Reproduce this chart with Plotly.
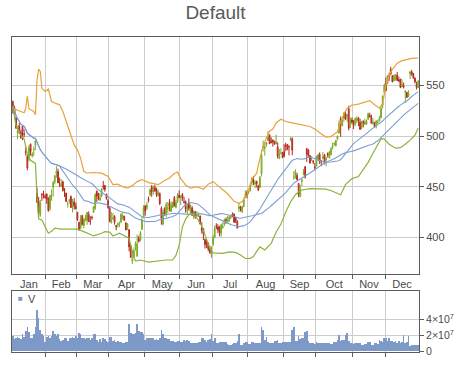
import plotly.graph_objects as go

# ---------------- data ----------------
month_names = ["Jan", "Feb", "Mar", "Apr", "May", "Jun", "Jul", "Aug", "Sep", "Oct", "Nov", "Dec"]
month_sessions = [21, 19, 20, 22, 22, 20, 22, 22, 20, 23, 20, 21]

open_ = [
    553.8, 547.9, 537.0, 522.0, 529.2, 522.5, 528.6, 521.0, 502.7, 498.5, 494.6, 510.3, 498.5, 504.6, 508.8, 460.0, 451.7, 437.8, 458.5, 457.0, 456.9,
    459.1, 453.9, 444.1, 456.5, 463.3, 468.9, 476.5, 479.5, 467.2, 464.5, 468.9, 461.1, 457.7, 446.0, 449.3, 453.9, 443.8, 448.4, 444.1,
    438.0, 427.8, 421.5, 434.5, 424.5, 429.8, 429.8, 435.6, 428.5, 432.8, 437.9, 441.5, 459.5, 457.4, 450.2, 454.6, 464.7, 465.4, 456.5, 449.8,
    441.9, 427.6, 431.4, 433.8, 424.5, 424.8, 426.4, 428.1, 433.7, 434.2, 427.0, 421.7, 420.3, 404.0, 388.0, 392.6, 403.0, 393.5, 411.2, 409.8, 420.5, 435.1,
    444.5, 441.8, 451.3, 455.7, 464.0, 459.0, 459.8, 457.9, 451.7, 453.9, 439.2, 423.2, 439.1, 431.9, 438.7, 444.1, 435.9, 440.0, 449.9, 440.0, 445.7, 452.5,
    450.7, 453.2, 445.7, 445.6, 436.5, 444.5, 435.7, 439.5, 432.5, 435.4, 431.4, 431.6, 431.2, 419.3, 418.5, 407.4, 405.0, 403.7, 399.0, 392.0,
    402.7, 409.2, 420.9, 420.4, 420.1, 413.6, 419.6, 422.9, 427.6, 425.0, 426.5, 429.7, 433.4, 433.1, 429.5, 426.0, 438.9, 440.7, 435.7, 440.8, 449.9, 454.9,
    455.8, 457.0, 464.7, 468.0, 463.8, 463.1, 458.7, 456.9, 470.9, 497.9, 496.4, 500.2, 504.4, 509.7, 503.6, 504.9, 503.7, 500.8, 498.0, 486.0, 491.7, 492.0,
    493.1, 499.6, 500.3, 498.4, 505.0, 506.2, 467.0, 468.5, 469.3, 461.0, 447.9, 463.2, 470.6, 478.0, 496.1, 494.9, 489.2, 486.0, 483.8, 477.3,
    478.5, 485.6, 490.5, 483.9, 486.6, 489.9, 484.6, 491.3, 486.9, 489.8, 497.5, 500.8, 499.0, 505.9, 511.8, 526.4, 519.0, 526.5, 531.3, 529.0, 536.3, 519.6, 525.0,
    524.0, 521.1, 524.6, 524.2, 519.6, 514.6, 519.9, 517.7, 518.0, 522.8, 526.6, 524.9, 519.0, 519.2, 517.6, 519.5, 521.0, 524.1, 536.3, 549.5,
    558.0, 558.3, 565.5, 572.6, 565.8, 560.9, 563.6, 566.9, 562.1, 562.9, 555.0, 555.8, 549.7, 549.5, 545.4, 568.0, 569.9, 568.1, 563.8, 557.5, 554.2,
]
high = [
    555.0, 549.7, 538.6, 529.3, 531.9, 525.0, 528.7, 525.3, 507.5, 498.6, 509.4, 510.8, 502.2, 507.9, 514.9, 465.7, 456.2, 453.2, 460.2, 462.6, 459.3,
    459.7, 455.9, 458.0, 464.0, 470.0, 476.0, 484.9, 482.4, 473.3, 471.6, 470.2, 462.7, 457.7, 449.2, 451.6, 455.1, 451.5, 452.4, 447.9,
    438.2, 428.2, 435.2, 435.4, 432.0, 435.4, 438.0, 438.9, 434.0, 434.5, 444.2, 457.5, 460.0, 457.6, 457.0, 462.1, 469.9, 465.7, 456.8, 451.8,
    443.7, 438.1, 437.3, 435.0, 424.9, 427.5, 428.5, 437.1, 437.0, 434.2, 427.9, 426.7, 420.6, 405.0, 399.6, 402.2, 408.4, 415.3, 413.9, 418.8, 433.6, 445.3,
    444.9, 448.6, 454.0, 462.2, 465.8, 465.0, 463.0, 459.9, 457.9, 455.2, 441.0, 437.3, 440.0, 445.4, 445.5, 448.4, 446.2, 445.4, 451.4, 447.5, 454.5, 457.1,
    452.4, 454.4, 450.7, 447.0, 443.2, 449.1, 442.9, 441.5, 437.1, 436.3, 436.0, 434.9, 431.8, 425.0, 418.9, 408.4, 406.8, 404.5, 401.3, 400.5,
    412.3, 421.6, 424.0, 423.0, 421.0, 423.5, 424.8, 428.8, 429.8, 431.5, 431.7, 432.2, 434.9, 433.9, 429.8, 426.9, 444.6, 441.6, 441.0, 449.9, 457.1, 457.3,
    456.8, 462.6, 470.7, 471.9, 467.2, 464.0, 459.9, 468.5, 494.7, 504.3, 502.4, 502.9, 513.7, 510.6, 507.4, 505.2, 503.7, 510.2, 502.5, 495.8, 496.5, 492.9,
    500.6, 502.2, 500.4, 499.4, 507.9, 507.5, 473.7, 475.4, 471.8, 461.6, 459.7, 466.4, 475.8, 478.6, 496.9, 495.5, 489.6, 488.6, 484.7, 481.7,
    489.1, 490.9, 492.4, 484.7, 492.7, 490.6, 487.8, 492.4, 493.6, 497.6, 502.0, 502.5, 504.8, 509.3, 524.3, 528.5, 525.7, 532.8, 533.2, 531.0, 539.3, 527.5, 527.5,
    524.8, 526.8, 528.9, 524.8, 523.2, 521.0, 521.7, 523.2, 522.3, 529.3, 529.1, 527.2, 523.4, 520.0, 521.2, 522.2, 525.9, 536.1, 546.0, 558.3,
    564.3, 566.4, 569.2, 575.1, 566.8, 567.6, 567.9, 569.9, 565.3, 562.9, 562.6, 559.4, 551.2, 550.0, 551.6, 570.7, 571.9, 569.0, 564.4, 560.1, 561.3,
]
low = [
    541.6, 541.0, 525.8, 515.2, 521.3, 515.6, 514.5, 517.5, 498.5, 483.4, 492.5, 498.5, 496.4, 498.0, 504.2, 450.3, 435.0, 435.9, 452.1, 454.5, 454.5,
    449.1, 441.0, 442.0, 452.3, 454.1, 466.6, 473.2, 467.7, 463.5, 464.0, 459.1, 453.5, 448.8, 442.6, 446.6, 442.6, 437.7, 440.6, 441.4,
    429.0, 419.0, 420.8, 424.4, 421.5, 428.6, 425.2, 428.1, 425.1, 430.3, 437.3, 440.6, 448.5, 450.2, 449.5, 453.1, 460.9, 458.9, 450.7, 441.6,
    427.7, 426.4, 430.2, 425.3, 419.7, 422.5, 422.8, 426.9, 430.5, 429.1, 419.6, 420.0, 398.1, 391.3, 385.1, 391.3, 398.8, 392.4, 407.0, 408.3, 419.8, 432.1,
    434.4, 440.6, 448.0, 454.3, 453.7, 455.7, 455.6, 450.5, 451.5, 442.2, 422.4, 421.7, 431.5, 430.0, 434.1, 436.1, 435.4, 439.3, 440.9, 439.0, 444.5, 449.5,
    442.5, 446.6, 444.0, 434.6, 432.3, 436.8, 434.0, 431.2, 428.4, 428.5, 430.0, 430.2, 423.0, 413.5, 407.0, 398.3, 398.8, 395.7, 393.5, 388.9,
    401.2, 409.0, 417.8, 413.9, 410.7, 410.4, 418.3, 421.0, 423.4, 424.8, 425.3, 428.2, 430.2, 424.4, 424.1, 418.7, 435.3, 435.8, 434.3, 440.2, 449.4, 449.2,
    453.3, 456.0, 462.2, 462.6, 459.6, 457.1, 453.5, 456.6, 468.1, 493.4, 489.1, 498.0, 504.0, 500.8, 501.5, 498.2, 500.0, 500.5, 486.3, 486.0, 491.1, 486.5,
    487.4, 493.6, 494.6, 489.5, 503.5, 489.5, 464.8, 466.0, 464.7, 447.2, 447.5, 458.5, 469.3, 466.0, 482.6, 487.0, 481.4, 483.8, 480.7, 474.4,
    478.4, 483.6, 480.7, 478.6, 485.4, 480.5, 478.3, 487.2, 486.3, 489.6, 495.5, 499.2, 498.3, 504.5, 511.5, 508.0, 519.0, 523.3, 525.1, 523.2, 514.5, 517.0, 521.3,
    515.8, 518.8, 522.0, 515.8, 512.4, 512.6, 514.4, 517.0, 516.9, 521.9, 524.5, 518.2, 517.0, 514.6, 513.5, 518.2, 520.5, 524.0, 533.4, 547.8,
    550.8, 557.7, 560.8, 566.4, 559.6, 560.9, 561.2, 561.0, 560.3, 553.7, 555.0, 553.4, 538.8, 543.7, 544.8, 562.8, 566.0, 563.4, 558.3, 552.3, 554.0,
]
close = [
    549.0, 542.1, 527.0, 523.9, 525.3, 517.1, 523.5, 520.3, 501.8, 485.9, 506.1, 502.7, 500.0, 504.8, 514.0, 450.5, 439.9, 449.8, 458.3, 456.8, 455.5,
    453.6, 442.3, 457.8, 457.4, 468.2, 475.0, 479.9, 467.9, 467.0, 466.6, 460.2, 460.0, 448.9, 446.1, 450.8, 442.8, 449.0, 444.6, 441.4,
    430.5, 420.1, 431.1, 425.7, 430.6, 431.7, 437.9, 428.4, 428.4, 432.5, 443.7, 455.7, 454.5, 452.1, 452.7, 461.9, 463.6, 461.1, 452.1, 442.7,
    428.9, 429.8, 432.0, 427.7, 423.2, 426.2, 427.0, 435.7, 434.3, 429.8, 419.9, 426.2, 402.8, 392.1, 390.5, 398.7, 406.1, 405.5, 408.4, 417.2, 430.1, 442.8,
    439.3, 445.5, 450.0, 460.7, 458.7, 463.8, 456.8, 453.0, 454.7, 443.9, 428.9, 434.6, 433.3, 442.9, 439.7, 441.4, 442.1, 445.2, 441.4, 445.0, 451.6, 449.7,
    450.7, 449.3, 445.1, 438.5, 441.8, 438.9, 437.6, 432.2, 436.0, 430.1, 432.0, 431.8, 423.0, 416.8, 413.5, 402.5, 402.6, 398.1, 393.8, 396.5,
    409.2, 418.5, 420.8, 417.4, 415.1, 422.4, 420.7, 427.3, 426.5, 427.4, 430.2, 430.3, 430.5, 425.0, 426.3, 419.0, 440.5, 438.5, 441.0, 447.8, 453.3, 452.5,
    456.7, 462.5, 469.5, 465.3, 465.0, 461.0, 454.5, 467.4, 489.6, 498.5, 497.9, 502.3, 507.7, 501.1, 502.4, 503.0, 501.0, 503.0, 488.6, 490.9, 491.7, 487.2,
    488.6, 498.7, 495.3, 498.2, 506.2, 494.6, 467.7, 472.7, 464.9, 450.1, 455.3, 464.7, 472.3, 467.4, 490.6, 489.1, 481.5, 486.2, 482.8, 476.8,
    488.0, 489.6, 483.4, 483.0, 487.8, 480.9, 486.6, 489.6, 492.8, 496.0, 498.7, 501.1, 504.5, 508.9, 521.4, 519.9, 525.0, 531.9, 526.0, 529.9, 516.7, 524.9, 522.7,
    520.0, 526.8, 525.5, 520.9, 512.5, 520.6, 519.1, 520.0, 520.6, 528.2, 525.0, 518.6, 519.6, 515.0, 521.1, 519.8, 523.7, 533.4, 546.0, 556.1,
    551.2, 566.3, 565.0, 567.9, 560.0, 566.4, 565.6, 561.4, 560.5, 554.4, 557.5, 555.0, 550.8, 544.5, 549.0, 570.1, 567.7, 563.9, 560.1, 554.5, 561.0,
]
# volume in millions of shares
volume_m = [
    19, 15, 17, 18, 16, 15, 21, 18, 25, 31, 24, 17, 17, 21, 31, 52, 42, 27, 21, 19, 11,
    18, 19, 17, 19, 25, 21, 19, 21, 15, 13, 14, 17, 16, 13, 17, 16, 18, 17, 19,
    16, 23, 22, 16, 17, 15, 17, 16, 14, 17, 22, 21, 14, 12, 15, 12, 17, 15, 13, 12,
    18, 18, 13, 14, 12, 13, 12, 11, 10, 10, 11, 11, 34, 23, 21, 21, 23, 34, 26, 24, 24, 21,
    14, 16, 17, 17, 17, 16, 14, 15, 14, 17, 26.5, 22, 16, 16, 15, 15, 13, 13, 12, 12, 13, 13,
    12, 11, 14, 13, 14, 13, 10, 10, 10, 10, 10, 11, 12, 16, 16, 14, 11, 14, 15, 21,
    13, 17, 10, 10, 12, 12, 11, 11, 11, 9, 8, 8, 9, 10, 10, 13, 21, 8, 8, 10, 11, 11,
    9, 9, 11, 11, 10, 10, 10, 10, 31, 26.5, 14, 18, 11, 10, 10, 10, 13, 13, 14, 10, 10, 11,
    12, 12, 11, 11, 11, 26.5, 31, 13, 13, 19, 15, 16, 16, 24, 26, 13, 10, 10, 10, 9,
    12, 10, 10, 10, 10, 10, 10, 10, 10, 9, 9, 11, 11, 14, 20, 13, 14, 14, 20, 23, 13, 10, 10,
    9, 10, 10, 10, 10, 8, 8, 9, 9, 11, 11, 8, 8, 10, 10, 9, 14, 13, 12, 17,
    16, 13, 16, 13, 13, 12, 13, 10, 13, 10, 11, 20, 10, 11, 19, 6, 8, 8, 8, 8, 8,
]
# dividend adjustment of the plotted prices: ex-dividend session indices and scale per segment
exdiv_index = [25, 88, 151, 214]
price_scale = [0.9642, 0.9697, 0.9762, 0.9827, 0.9885]

# Bollinger bands (session index, value)
upper_idx = [0, 1, 3, 5, 7, 8, 9, 10, 11, 13, 14, 15, 16, 17, 18, 20, 22, 23, 24, 27, 29, 31, 33, 36, 38, 40, 42, 44, 46, 50,
             55, 59, 62, 65, 68, 71, 74, 77, 80, 84, 87, 90, 94, 97, 100, 102, 104, 107, 110, 114, 118, 121, 124, 127, 130, 133, 137, 140, 142, 145,
             148, 151, 153, 155, 157, 159, 161, 163, 166, 169, 173, 178, 184, 188, 191, 194, 197, 200, 201, 203, 205, 207, 210, 214, 218, 221, 224, 227, 229, 231,
             233, 235, 238, 241, 245, 248, 251]
upper_val = [529.4, 527, 525.5, 524, 523, 527.6, 539.5, 527, 526, 524.3, 521, 555.6, 566.2, 563.9, 547.4, 544.1, 546.4, 540.8, 534.2, 532,
             530.9, 524.3, 514.4, 499.5, 491.3, 486.4, 478, 465, 463.5, 464, 463.3, 460, 452, 452.5, 450, 448.5, 451, 455, 457, 454,
             453, 452, 456, 458.5, 463, 464.5, 458, 451.7, 448.5, 450, 447.5, 452.5, 455, 451, 447, 443, 435.5, 433.6, 435.3, 442,
             457, 463.3, 478, 490, 498, 505, 507, 513, 516.7, 514.4, 513, 511.5, 509.5, 506, 502, 499, 499.5, 503, 504, 514,
             522, 527.5, 530.5, 531.5, 533.5, 535, 531, 527.5, 532, 550, 560, 566, 572, 574.5, 576, 577, 577.1]
lower_idx = [0, 1, 2, 4, 7, 9, 11, 13, 14, 15, 16, 18, 20, 22, 24, 26, 30, 34, 40, 44,
             50, 55, 57, 60, 62, 66, 70, 72, 73, 74, 75, 76, 79, 84, 87, 91, 95, 99, 101, 103,
             105, 107, 110, 112, 114, 117, 120, 122, 124, 130, 134, 138, 141, 144, 147, 149, 151, 153, 156, 160,
             163, 166, 169, 172, 175, 178, 184, 186, 194, 198, 203, 206, 210, 214, 217, 220, 223, 225, 228, 230,
             233, 237, 240, 243, 246, 249, 251]
lower_val = [529.4, 519, 510, 503, 497, 482, 476, 474, 473, 440, 418, 417, 410, 404, 406, 409, 408, 408, 408, 405.6,
             401.3, 404, 405.6, 405, 401.3, 404, 401, 399, 392, 385, 380, 376.5, 377.5, 375.5, 376, 377, 377.5, 377.5, 382, 392,
             410, 418, 424, 422, 419, 411, 397, 389, 384.5, 384, 385.5, 385, 382.5, 379, 379.2, 381, 386, 390.5, 387.5, 394,
             405, 413, 425, 435, 442, 446.5, 448, 447.8, 447.5, 445.5, 442, 452, 458, 460, 467, 474, 483, 489, 497.5, 497,
             492, 488, 488.5, 492, 496, 501, 507.8]
ma_windows = [30, 50]

# ---------------- derived ----------------
n = len(close)
x = list(range(n))


def scale_at(i):
    k = sum(1 for e in exdiv_index if i >= e)
    return price_scale[k]


sc = [scale_at(i) for i in x]
O = [v * s for v, s in zip(open_, sc)]
H = [v * s for v, s in zip(high, sc)]
L = [v * s for v, s in zip(low, sc)]
C = [v * s for v, s in zip(close, sc)]


def sma(vals, w):
    out = []
    for i in range(len(vals)):
        win = vals[max(0, i - w + 1): i + 1]
        out.append(sum(win) / len(win))
    return out


starts = []
acc = 0
for d in month_sessions:
    starts.append(acc)
    acc += d
boundaries = [s - 0.5 for s in starts[1:]]
centers = [s + (d - 1) / 2 for s, d in zip(starts, month_sessions)]

# ---------------- figure ----------------
grid = "#cccccc"
frame = "#5c5c5c"
txt = "#4a4a4a"
ma_col = "#7c9ed3"

fig = go.Figure()
fig.add_trace(go.Candlestick(
    x=x, open=O, high=H, low=L, close=C, xaxis="x", yaxis="y",
    increasing=dict(line=dict(color="#7aab22", width=1), fillcolor="#b2d46e"),
    decreasing=dict(line=dict(color="#b5261e", width=1), fillcolor="#dd8f8a"),
    whiskerwidth=0, showlegend=False, hoverinfo="skip"))
for w in ma_windows:
    fig.add_trace(go.Scatter(x=x, y=sma(C, w), mode="lines", xaxis="x", yaxis="y",
                             line=dict(color=ma_col, width=1.1), showlegend=False, hoverinfo="skip"))
fig.add_trace(go.Scatter(x=upper_idx, y=upper_val, mode="lines", xaxis="x", yaxis="y",
                         line=dict(color="#e9a23b", width=1.2), showlegend=False, hoverinfo="skip"))
fig.add_trace(go.Scatter(x=lower_idx, y=lower_val, mode="lines", xaxis="x", yaxis="y",
                         line=dict(color="#8db33a", width=1.2), showlegend=False, hoverinfo="skip"))
fig.add_trace(go.Bar(x=x, y=[v * 1e6 for v in volume_m], xaxis="x2", yaxis="y2",
                     marker=dict(color="#7d99c7", line=dict(width=0)), showlegend=False, hoverinfo="skip"))

xcommon = dict(range=[-0.5, n - 0.5], showline=True, mirror=True, linecolor=frame, linewidth=1,
               zeroline=False, tickmode="array", tickvals=centers, ticktext=month_names, ticks="",
               showgrid=False, tickfont=dict(size=11, color=txt),
               minor=dict(tickmode="array", tickvals=boundaries, ticks="outside", ticklen=4,
                          tickcolor=frame, showgrid=True, gridcolor=grid, gridwidth=1))

W, Hh = 460, 382
fig.update_layout(
    width=W, height=Hh,
    margin=dict(l=11.5, r=41, t=37.3, b=30.3, autoexpand=False),
    paper_bgcolor="white", plot_bgcolor="white",
    font=dict(family="Liberation Sans, Arial, sans-serif", color=txt, size=11),
    bargap=0, showlegend=False,
    title=dict(text="Default", x=0.5, xref="paper", y=1 - 12.5 / Hh, yref="container",
               xanchor="center", yanchor="middle", font=dict(size=19, color="#5a5a5a")),
    xaxis=dict(xcommon, domain=[0, 1], anchor="y", rangeslider=dict(visible=False), showticklabels=True),
    xaxis2=dict(xcommon, domain=[0, 1], anchor="y2", matches="x", showticklabels=False),
    yaxis=dict(domain=[0.2467, 1], range=[363.4, 597.9], side="right", tickmode="array",
               tickvals=[400, 450, 500, 550], ticks="outside", ticklen=4, tickcolor=frame,
               showgrid=True, gridcolor=grid, showline=True, mirror=True, linecolor=frame,
               zeroline=False, tickfont=dict(size=11, color=txt)),
    yaxis2=dict(domain=[0, 0.1946], range=[-1.0e6, 7.6e7], side="right", tickmode="array",
                tickvals=[0, 2e7, 4e7], ticktext=["0", "2×10<sup>7</sup>", "4×10<sup>7</sup>"],
                ticks="outside", ticklen=4, tickcolor=frame, showgrid=True, gridcolor=grid,
                showline=True, mirror=True, linecolor=frame, zeroline=False,
                tickfont=dict(size=10.5, color=txt)),
    annotations=[
        dict(text="■", x=(20.5 - 11.5) / 407.5, y=(351.7 - 298.5) / 314.4, xref="paper", yref="paper",
             showarrow=False, font=dict(size=8, color="#7d99c7"), xanchor="center", yanchor="middle"),
        dict(text="V", x=(26 - 11.5) / 407.5, y=(351.7 - 298.5) / 314.4, xref="paper", yref="paper",
             showarrow=False, font=dict(size=11, color=txt), xanchor="left", yanchor="middle"),
    ],
)

# remove the browser's default 8px body margin so the figure sits at the page origin
fig.write_html("out.html", config={"displayModeBar": False, "staticPlot": True},
               post_script="document.body.style.margin='0px';")
